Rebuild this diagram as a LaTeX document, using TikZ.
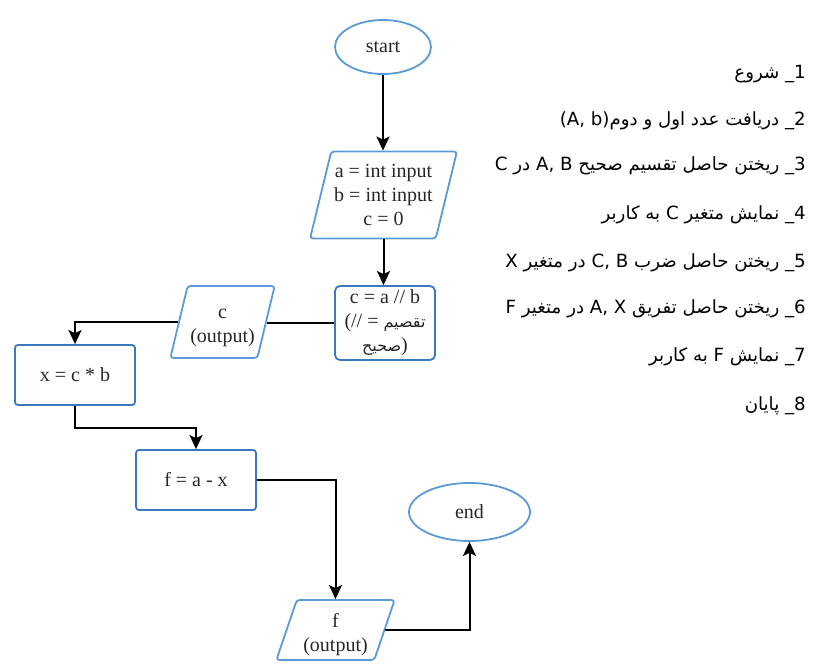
\documentclass[tikz,border=0pt]{standalone}
\usepackage{fontspec}
\setmainfont{Liberation Serif}
\newfontfamily\fa[Script=Arabic]{DejaVu Sans}
\TeXXeTstate=1
\usetikzlibrary{shapes.geometric,arrows.meta}
\definecolor{lblue}{HTML}{5B9BD5}
\definecolor{dblue}{HTML}{3A78C0}
\definecolor{txt}{HTML}{262626}
\begin{document}
\begin{tikzpicture}[x=1pt,y=1pt,
  every node/.style={text=txt},
  term/.style={ellipse,draw=lblue,line width=1.8pt,inner sep=0pt,font=\fontsize{20}{24}\selectfont},
  io/.style={trapezium,trapezium left angle=72,trapezium right angle=108,trapezium stretches=true,draw=lblue,line width=1.8pt,rounded corners=3pt,align=center,inner sep=0pt,font=\fontsize{20}{24}\selectfont},
  proc/.style={rectangle,draw=dblue,line width=1.8pt,rounded corners=3pt,align=center,inner sep=0pt,font=\fontsize{20}{24}\selectfont},
  arr/.style={-{Stealth[length=14pt,width=13pt,inset=3pt]},line width=2pt,black},
  ln/.style={line width=2pt,black},
  item/.style={anchor=base east,font=\fa\fontsize{18.2}{20}\selectfont,text=black,inner sep=0pt}
]
\useasboundingbox (0,0) rectangle (831,-668);
% flowchart nodes
\node[term,minimum width=96pt,minimum height=54pt] (start) at (383,-47) {start};
\node[io,minimum width=147pt,minimum height=87pt] (in) at (383.5,-195) {a = int input\\ b = int input\\ c = 0};
\node[proc,minimum width=100pt,minimum height=74pt,rounded corners=5pt] (div) at (385,-323) {c = a // b\\ (// = {\fa\fontsize{16}{18}\selectfont\beginR تقصیم\endR}\\ {\fa\fontsize{16}{18}\selectfont\beginR صحیح\endR})};
\node[io,minimum width=105pt,minimum height=72pt] (cout) at (222.5,-322) {\rule{0pt}{21pt}c\\ (output)};
\node[proc,minimum width=120pt,minimum height=60pt] (mul) at (75,-375) {x = c * b};
\node[proc,minimum width=120pt,minimum height=60pt] (sub) at (196,-480) {f = a - x};
\node[io,minimum width=119pt,minimum height=60pt] (fout) at (335.5,-630) {\rule{0pt}{24pt}f\\ (output)};
\node[term,minimum width=121pt,minimum height=58pt] (end) at (469.5,-512) {end};
\coordinate (bend) at (75,-428);
% connectors
\draw[arr] (start.south) -- (start.south |- in.north);
\draw[arr] (in.center |- in.south) -- (in.center |- div.north);
\draw[ln] (div.west) -- (div.west -| cout.right side);
\draw[arr] (cout.left side) -| (mul.north);
\draw[arr] (mul.south) -- (bend) -| (sub.north);
\draw[arr] (sub.east) -| (fout.center |- fout.north);
\draw[arr] (fout.right side) -| (end.south);
% list
\node[item] (l1) at (806,-79) {\beginR 1\_ شروع\endR};
\node[item] (l2) at (806,-126) {\beginR 2\_ دریافت عدد اول و دوم\beginL(A, b)\endL\endR};
\node[item] (l3) at (806,-171) {\beginR 3\_ ریختن حاصل تقسیم صحیح \beginL A, B\endL{} در C\endR};
\node[item] (l4) at (806,-220) {\beginR 4\_ نمایش متغیر C به کاربر\endR};
\node[item] (l5) at (806,-268) {\beginR 5\_ ریختن حاصل ضرب \beginL C, B\endL{} در متغیر X\endR};
\node[item] (l6) at (806,-314) {\beginR 6\_ ریختن حاصل تفریق \beginL A, X\endL{} در متغیر F\endR};
\node[item] (l7) at (806,-362) {\beginR 7\_ نمایش F به کاربر\endR};
\node[item] (l8) at (806,-411) {\beginR 8\_ پایان\endR};
\end{tikzpicture}
\end{document}
